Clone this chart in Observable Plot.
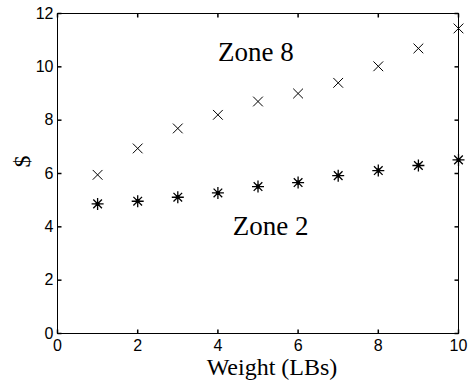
<!DOCTYPE html>
<html>
<head>
<meta charset="utf-8">
<script src="https://cdn.jsdelivr.net/npm/d3@7"></script>
<script src="https://cdn.jsdelivr.net/npm/@observablehq/plot@0.6"></script>
<style>
  html, body { margin: 0; padding: 0; background: #fff; }
</style>
</head>
<body>
<div id="chart"></div>
<script>
const weights = [1, 2, 3, 4, 5, 6, 7, 8, 9, 10];
const zone8 = [5.95, 6.94, 7.69, 8.2, 8.7, 9.0, 9.4, 10.02, 10.69, 11.44];
const zone2 = [4.86, 4.96, 5.11, 5.27, 5.51, 5.66, 5.92, 6.11, 6.3, 6.51];
const xTicks = [0, 2, 4, 6, 8, 10];
const yTicks = [0, 2, 4, 6, 8, 10, 12];

const z8 = weights.map((w, i) => ({w, v: zone8[i]}));
const z2 = weights.map((w, i) => ({w, v: zone2[i]}));

const tickLen = 4;
const tickSym = (dx, dy) => ({draw(ctx) { ctx.moveTo(0, 0); ctx.lineTo(dx, dy); }});
const star = {
  draw(ctx, size) {
    const r = Math.sqrt(size / Math.PI);
    const d = r * 0.72;
    ctx.moveTo(0, -r); ctx.lineTo(0, r);
    ctx.moveTo(-r, 0); ctx.lineTo(r, 0);
    ctx.moveTo(-d, -d); ctx.lineTo(d, d);
    ctx.moveTo(-d, d); ctx.lineTo(d, -d);
    ctx.moveTo(1.6, 0); ctx.arc(0, 0, 1.6, 0, 2 * Math.PI);
  }
};

const chart = Plot.plot({
  width: 469,
  height: 388,
  marginLeft: 57,
  marginRight: 11,
  marginTop: 13,
  marginBottom: 55,
  style: {fontFamily: "'Liberation Sans', Arial, sans-serif", fontSize: "16px", color: "black", background: "white"},
  x: {domain: [0, 10]},
  y: {domain: [0, 12]},
  marks: [
    Plot.frame({stroke: "black", strokeWidth: 1}),
    Plot.axisX(xTicks, {tickSize: 0, tickPadding: 6, label: null, fontSize: 16}),
    Plot.axisY(yTicks, {tickSize: 0, tickPadding: 4, label: null, fontSize: 16}),
    Plot.dot(xTicks, {x: d => d, frameAnchor: "bottom", symbol: tickSym(0, -tickLen), stroke: "black", r: 1}),
    Plot.dot(xTicks, {x: d => d, frameAnchor: "top", symbol: tickSym(0, tickLen), stroke: "black", r: 1}),
    Plot.dot(yTicks, {y: d => d, frameAnchor: "left", symbol: tickSym(tickLen, 0), stroke: "black", r: 1}),
    Plot.dot(yTicks, {y: d => d, frameAnchor: "right", symbol: tickSym(-tickLen, 0), stroke: "black", r: 1}),
    Plot.dot(z8, {x: "w", y: "v", symbol: "times", r: 4.5, stroke: "black", strokeWidth: 1}),
    Plot.dot(z2, {x: "w", y: "v", symbol: star, r: 6, stroke: "black", strokeWidth: 1.3}),
    Plot.text(["Zone 8"], {x: 4, y: 10.54, text: d => d, textAnchor: "start", lineAnchor: "middle",
      fontFamily: "'Liberation Serif', 'Times New Roman', serif", fontSize: 27, fill: "black"}),
    Plot.text(["Zone 2"], {x: 4.37, y: 4.0, text: d => d, textAnchor: "start", lineAnchor: "middle",
      fontFamily: "'Liberation Serif', 'Times New Roman', serif", fontSize: 27, fill: "black"}),
    Plot.text(["Weight (LBs)"], {frameAnchor: "bottom", text: d => d, dx: 14, dy: 34, lineAnchor: "middle",
      fontFamily: "'Liberation Serif', 'Times New Roman', serif", fontSize: 24, fill: "black"}),
    Plot.text(["$"], {frameAnchor: "left", text: d => d, dx: -35, dy: -6, rotate: -90, lineAnchor: "middle",
      fontFamily: "'Liberation Serif', 'Times New Roman', serif", fontSize: 24, fill: "black"})
  ]
});
document.getElementById("chart").appendChild(chart);
</script>
</body>
</html>
